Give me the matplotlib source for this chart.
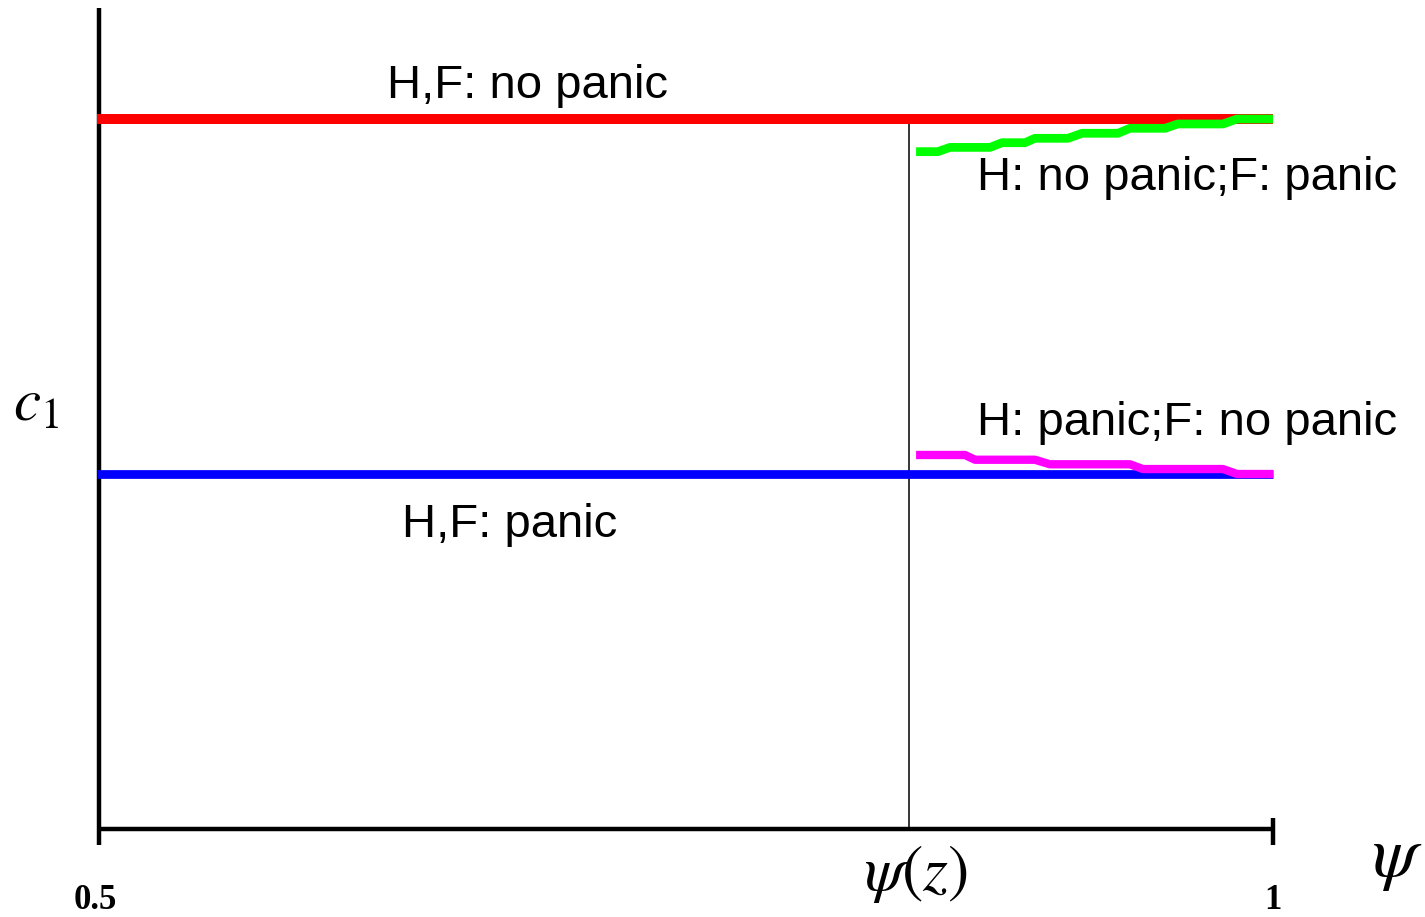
import matplotlib
matplotlib.use("Agg")
import matplotlib.pyplot as plt

plt.rcParams["mathtext.fontset"] = "stix"

# data
psi_lo, psi_hi = 0.5, 1.0
psi_z = 0.845
c_top = 1.0      # H,F: no panic
c_bot = 0.5      # H,F: panic

green_x = [0.848, 0.8573, 0.8624, 0.8795, 0.8846, 0.8944, 0.8986, 0.9127,
           0.9187, 0.934, 0.9391, 0.954, 0.9595, 0.9787, 0.9847, 1.0]
green_y = [0.954, 0.954, 0.960, 0.960, 0.9666, 0.9666, 0.9728, 0.9728,
           0.9799, 0.9799, 0.9869, 0.9869, 0.993, 0.993, 1.0, 1.0]

magenta_x = [0.848, 0.8688, 0.8731, 0.8986, 0.905, 0.9391, 0.9446, 0.9787, 0.9847, 1.0]
magenta_y = [0.5268, 0.5268, 0.5201, 0.5201, 0.5137, 0.5137, 0.507, 0.507, 0.5, 0.5]

fig = plt.figure(figsize=(14.25, 9.17), dpi=100)
ax = fig.add_axes([0, 0, 1, 1])
ax.set_xlim(0.45784, 1.06474)
ax.set_ylim(-0.1239, 1.1676)
ax.axis("off")

# axes drawn by hand
ax.plot([psi_lo, psi_lo], [-0.022, 1.157], color="black", lw=3.2, solid_capstyle="butt")
ax.plot([psi_lo, psi_hi], [0, 0], color="black", lw=3.2, solid_capstyle="butt")
ax.plot([psi_hi, psi_hi], [-0.022, 0.016], color="black", lw=3.2, solid_capstyle="butt")

# psi(z) marker
ax.plot([psi_z, psi_z], [0, c_top], color="black", lw=1.1)

ax.plot([psi_lo - 0.001, psi_hi], [c_top, c_top], color="#ff0000", lw=7.2, solid_capstyle="butt")
ax.plot([psi_lo - 0.001, psi_hi], [c_bot, c_bot], color="#0000ff", lw=6.3, solid_capstyle="butt")
ax.plot(green_x, green_y, color="#00ff00", lw=6.3, solid_capstyle="butt")
ax.plot(magenta_x, magenta_y, color="#ff00ff", lw=6.0, solid_capstyle="butt")

txt = dict(fontsize=34, family="Liberation Sans", va="baseline", ha="left")
ax.text(0.6227, 1.0296, "H,F: no panic", **txt)
ax.text(0.8739, 0.900, "H: no panic;F: panic", **txt)
ax.text(0.8739, 0.555, "H: panic;F: no panic", **txt)
ax.text(0.629, 0.411, "H,F: panic", **txt)

ax.text(0.4635, 0.598, r"$c_1$", fontsize=44, ha="left", va="center")
ax.text(1.0422, -0.041, r"$\psi$", fontsize=52, ha="left", va="center")
ax.text(psi_z + 0.003, -0.064, r"$\psi(z)$", fontsize=46, ha="center", va="center")
ax.text(0.4985, -0.1, "0.5", fontsize=25, family="Liberation Serif",
        weight="bold", ha="center", va="center")
ax.text(psi_hi, -0.1, "1", fontsize=25, family="Liberation Serif",
        weight="bold", ha="center", va="center")

fig.savefig("out.png", dpi=100)
